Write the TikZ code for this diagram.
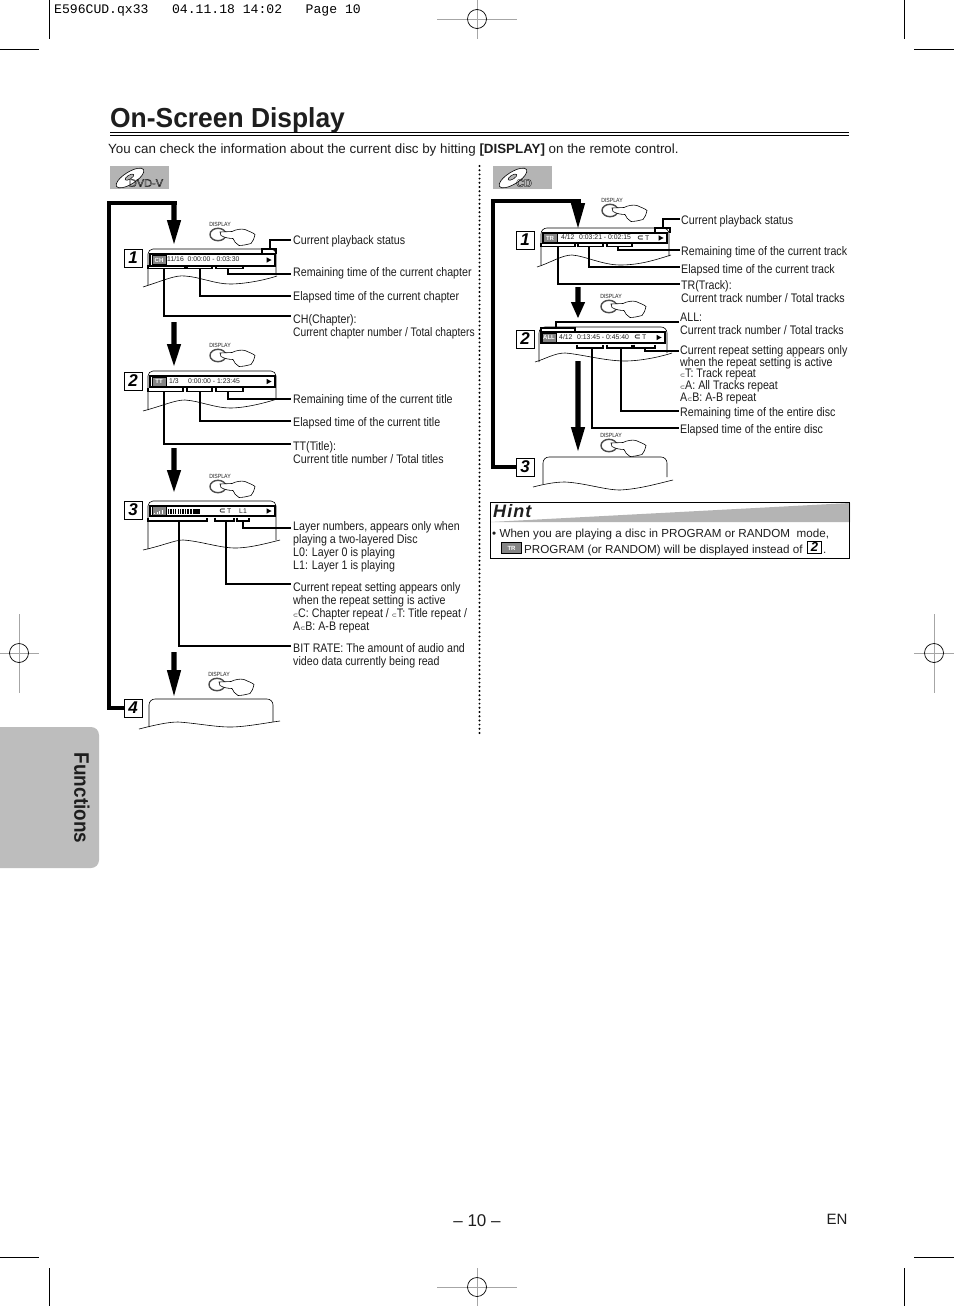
\documentclass[tikz,border=0pt]{standalone}
\usepackage{fontspec}
\setmainfont{Liberation Sans}
\newfontfamily\cond[FakeStretch=0.86]{Liberation Sans}
\newfontfamily\condn[FakeStretch=0.828]{Liberation Sans}
\newfontfamily\titlefont[FakeStretch=0.96]{Liberation Sans}
\newfontfamily\sidefont[FakeStretch=0.9]{Liberation Sans}
\newfontfamily\djv{DejaVu Sans}
\newfontfamily\typew{Liberation Mono}
\newcommand{\rp}{{\djv\fontsize{6}{6}\selectfont ⊂}}
\newcommand{\rpb}{{\djv\bfseries\fontsize{8}{8}\selectfont ⊂}}
\newcommand{\outline}[1]{\special{pdf:code 1 Tr 0.3 w}#1\special{pdf:code 0 Tr}}
\definecolor{sidegray}{HTML}{BDBDBD}
\definecolor{badgegray}{HTML}{B4B4B4}
\definecolor{ink}{HTML}{1E1E1E}
\tikzset{
  lbl/.style={anchor=north west,inner sep=0pt,yshift=-1.5pt,align=left,font=\cond\fontsize{12.4}{13}\selectfont,text=ink},
  lbltight/.style={lbl,font=\cond\fontsize{12.4}{11.6}\selectfont},
  lead/.style={draw=black,line width=1.3pt,line join=miter},
  crop/.style={draw=black,line width=0.7pt},
  reg/.style={draw=gray!70,line width=0.7pt},
  outl/.style={draw=black,line width=0.6pt},
  thickloop/.style={draw=black,line width=4pt,line join=miter},
  numbox/.style={draw=black,line width=0.9pt,fill=white,minimum width=18pt,minimum height=18pt,inner sep=0pt,font=\bfseries\itshape\fontsize{17}{17}\selectfont},
  bartext/.style={anchor=west,inner sep=0pt,font=\fontsize{6.85}{7}\selectfont,text=ink},
  modeicon/.style={draw=black,line width=0.7pt,fill=black!48,text=white,inner sep=0pt,minimum width=14pt,minimum height=9pt,font=\bfseries\fontsize{6}{6}\selectfont},
  displaytxt/.style={inner sep=0pt,font=\cond\fontsize{6}{6}\selectfont,text=ink},
}
% arrow: x, shaft top, head top, tip
\newcommand{\dnarrow}[4]{\fill[black] (#1-2.6,#2) -- (#1+2.6,#2) -- (#1+2.6,#3) -- (#1+7.2,#3) -- (#1,#4) -- (#1-7.2,#3) -- (#1-2.6,#3) -- cycle;}
% hand icon: name, x and y of the word DISPLAY
\newcommand{\handicon}[3]{%
  \node[displaytxt] (#1) at (#2,#3) {DISPLAY};
  \begin{scope}[shift={(#2-2,#3+10.5)}]
    \draw[line width=1.4pt,draw=black!70] (0,0) ellipse (8 and 6.2);
    \draw[line width=0.6pt,fill=white] (2,-2.5) -- (14,-3) .. controls (18,-5) and (23,-6) .. (27,-5) .. controls (31,-3) and (35,-2) .. (37,0) .. controls (36,4) and (35,7) .. (33,9) .. controls (29,10) and (25,11) .. (21,11) .. controls (18,9) and (16,7) .. (15,4) .. controls (11,4) and (6,3) .. (3,1) -- cycle;
  \end{scope}}
% top/bottom brackets
\newcommand{\brb}[5]{\draw[lead] (#2,#5-3.5) -- (#2,#5) -- (#3,#5) -- (#3,#5-3.5); \coordinate (#1) at (#4,#5);}
\newcommand{\brt}[5]{\draw[lead] (#2,#5+5) -- (#2,#5) -- (#3,#5) -- (#3,#5+5); \coordinate (#1) at (#4,#5);}
\newcommand{\play}[2]{\fill[black] (#1-2.5,#2-2.7) -- (#1+2.5,#2) -- (#1-2.5,#2+2.7) -- cycle;}
\begin{document}
\begin{tikzpicture}[x=1pt,y=-1pt]
\useasboundingbox (0,0) rectangle (954,1306);
\fill[white] (0,0) rectangle (954,1306);
% crop marks
\draw[crop] (49,0) -- (49,39);
\draw[crop] (0,49) -- (39,49);
\draw[crop] (904,0) -- (904,39);
\draw[crop] (914,49) -- (954,49);
\draw[crop] (49,1268) -- (49,1306);
\draw[crop] (0,1257) -- (39,1257);
\draw[crop] (904,1268) -- (904,1306);
\draw[crop] (914,1257) -- (954,1257);
% registration marks
\draw[reg] (437,19) -- (517,19);
\draw[reg] (477,0) -- (477,39);
\draw[crop] (477,19) circle[radius=9.5];
\draw[reg] (437,1287) -- (517,1287);
\draw[reg] (477,1268) -- (477,1306);
\draw[crop] (477,1287) circle[radius=9.5];
\draw[reg] (0,653) -- (39,653);
\draw[reg] (19,614) -- (19,693);
\draw[crop] (19,653) circle[radius=9.5];
\draw[reg] (914,653) -- (954,653);
\draw[reg] (934,614) -- (934,693);
\draw[crop] (934,653) circle[radius=9.5];
% header
\node[anchor=west,inner sep=0pt,font=\typew\fontsize{13.1}{14}\selectfont] (slug) at (54,10) {E596CUD.qx33\ \ \ 04.11.18 14:02\ \ \ Page 10};
% title
\node[anchor=base west,inner sep=0pt,font=\titlefont\bfseries\fontsize{27.5}{28}\selectfont,text=ink] (title) at (110,127) {On-Screen Display};
\draw[black,line width=0.8pt] (110,132.5) -- (849,132.5);
\draw[black,line width=1.7pt] (110,135.5) -- (849,135.5);
\node[anchor=base west,inner sep=0pt,font=\fontsize{13.35}{14}\selectfont,text=ink] (intro) at (108,153.5) {You can check the information about the current disc by hitting \textbf{[DISPLAY]} on the remote control.};
% badges
\fill[badgegray] (110,166) rectangle (169,189);
\fill[badgegray] (493,166) rectangle (552,189);
\foreach \bx in {130,513}{
  \draw[line width=0.6pt,fill=white,rotate around={32:(\bx,178)}] (\bx,178) ellipse (16 and 6);
  \draw[line width=0.5pt,fill=badgegray,rotate around={32:(\bx,178)}] (\bx,177) ellipse (5 and 2);
}
\node[inner sep=0pt,font=\fontsize{11}{11}\selectfont,text=black] (dvdtxt) at (146,183) {\outline{DVD-V}};
\node[inner sep=0pt,font=\bfseries\fontsize{11}{11}\selectfont,text=black] (cdtxt) at (524,183) {\outline{CD}};
% dotted divider
\draw[black,line width=2.2pt,line cap=round,dash pattern=on 0pt off 4.2pt] (479.5,166) -- (479.5,734);
% sidebar
\fill[sidegray,rounded corners=8pt] (-12,727) rectangle (99,868);
\node[rotate=-90,inner sep=0pt,font=\sidefont\bfseries\fontsize{21}{22}\selectfont,text=ink] (side) at (82,798) {Functions};
% ---------- left column: loop and arrows
\node[numbox] (n1) at (133,258) {1};
\node[numbox] (n2) at (133,381) {2};
\node[numbox] (n3) at (133,510) {3};
\node[numbox] (n4) at (133,708) {4};
\draw[thickloop] (n4.west) -- (109,708) -- (109,203) -- (176.6,203);
\dnarrow{174}{201}{220}{244}
\dnarrow{174}{322}{344}{366}
\dnarrow{174}{448}{470}{492}
\dnarrow{174}{652}{670}{696}
\handicon{d1}{220}{224}
\handicon{d2}{220}{345}
\handicon{d3}{220}{476}
\handicon{d4}{219}{674}
% screen outlines
\draw[outl,rounded corners=5pt] (148,285) -- (148,249) -- (276,249) -- (276,275);
\draw[outl] (143,287) .. controls (165,280) and (175,275) .. (185,276) .. controls (200,277) and (215,284) .. (230,284) .. controls (245,284) and (265,280) .. (277,276);
\draw[outl,rounded corners=5pt] (148,410) -- (148,371) -- (276,371) -- (276,399);
\draw[outl] (143,411) .. controls (165,405) and (175,400) .. (185,400) .. controls (200,401) and (215,408) .. (230,408) .. controls (245,408) and (265,403) .. (277,399);
\draw[outl,rounded corners=5pt] (148,549) -- (148,501) -- (276,501) -- (276,540);
\draw[outl] (143,550) .. controls (165,545) and (175,540) .. (183,540) .. controls (200,541) and (220,548) .. (235,548) .. controls (250,548) and (268,543) .. (280,540);
\draw[outl,rounded corners=6pt] (149,727) -- (149,699) -- (273,699) -- (273,722);
\draw[outl] (139,729) .. controls (155,725) and (168,722) .. (178,722) .. controls (195,723) and (215,727) .. (230,727) .. controls (245,727) and (265,723) .. (280,721);
% bars
\draw[line width=1.2pt,fill=white] (150,254) rectangle (275,266);
\draw[line width=1.2pt,fill=white] (150,376) rectangle (275,387);
\draw[line width=1.2pt,fill=white] (150,506) rectangle (275,516);
\node[modeicon] (ich) at (159,260) {CH};
\node[modeicon] (itt) at (159,381.5) {TT};
\node[modeicon] (ibr) at (159,511) {};
\foreach \a/\h in {154/1.5,156.5/2.5,159/3.5,161.5/4.5}{\fill[white] (\a,514) rectangle (\a+1.4,514-\h);}
\node[bartext] (tch) at (167,259.5) {11/16\ \ 0:00:00 - 0:03:30};
\node[bartext] (ttn) at (169,381) {1/3};
\node[bartext] (ttt) at (188,381) {0:00:00 - 1:23:45};
\node[bartext] (trt) at (219,511) {\rpb\,T};
\node[bartext] (tl) at (239,511) {L1};
\play{269}{260}
\play{269}{381.5}
\play{269}{511}
\foreach \a/\w in {168/1.2,170.4/1.2,172.8/1.2,175.2/1.2,178/1.2,180/1.4,182.2/1.4,184.6/1.6,187/2.2,190/2,193/7}{\fill[black] (\a,508.5) rectangle (\a+\w,513.5);}
% DVD screen 1 leaders
\brt{s1}{262}{276}{270}{249}
\brb{r1}{216}{243}{228}{268.5}
\brb{e1}{187}{212}{200}{268.5}
\brb{c1}{148}{185}{164}{268.5}
\node[lbl] (l1) at (293,234) {Current playback status};
\node[lbl] (l2) at (293,266) {Remaining time of the current chapter};
\node[lbl] (l3) at (293,290) {Elapsed time of the current chapter};
\node[lbl] (l4) at (293,313) {CH(Chapter):\\{\condn Current chapter number / Total chapters}};
\coordinate (l1e) at (291,240);
\coordinate (l2e) at (291,274);
\coordinate (l3e) at (291,296);
\coordinate (l4e) at (291,316);
\draw[lead] (s1) |- (l1e);
\draw[lead] (r1) |- (l2e);
\draw[lead] (e1) |- (l3e);
\draw[lead] (c1) |- (l4e);
% DVD screen 2 leaders
\brb{r2}{216}{243}{228}{391.5}
\brb{e2}{187}{212}{200}{391.5}
\brb{c2}{148}{183}{164}{391.5}
\node[lbl] (l5) at (293,393) {Remaining time of the current title};
\node[lbl] (l6) at (293,416) {Elapsed time of the current title};
\node[lbl] (l7) at (293,440) {TT(Title):\\Current title number / Total titles};
\coordinate (l5e) at (291,399);
\coordinate (l6e) at (291,421);
\coordinate (l7e) at (291,444);
\draw[lead] (r2) |- (l5e);
\draw[lead] (e2) |- (l6e);
\draw[lead] (c2) |- (l7e);
% DVD screen 3 leaders
\brb{b3}{148}{207}{179}{521}
\brb{t3}{215}{234}{226}{521}
\brb{y3}{237}{249}{243}{521}
\node[lbl] (l8) at (293,520) {Layer numbers, appears only when\\playing a two-layered Disc\\L0: Layer 0 is playing\\L1: Layer 1 is playing};
\node[lbl] (l9) at (293,581) {Current repeat setting appears only\\when the repeat setting is active\\\rp C: Chapter repeat / \rp T: Title repeat /\\A\rp B: A-B repeat};
\node[lbl] (l10) at (293,642) {BIT RATE: The amount of audio and\\video data currently being read};
\coordinate (l8e) at (291,528);
\coordinate (l9e) at (291,584);
\coordinate (l10e) at (291,646);
\draw[lead] (y3) |- (l8e);
\draw[lead] (t3) |- (l9e);
\draw[lead] (b3) |- (l10e);
% ---------- right column
\node[numbox] (m1) at (525,240) {1};
\node[numbox] (m2) at (525,339) {2};
\node[numbox] (m3) at (525,467) {3};
\draw[thickloop] (m3.west) -- (493,467) -- (493,201) -- (580.6,201);
\dnarrow{578}{199}{203}{228}
\dnarrow{578}{287}{302}{318}
\dnarrow{578}{361}{427}{451}
\handicon{c1h}{612}{200}
\handicon{c2h}{611}{296}
\handicon{c3h}{611}{435}
\draw[outl,rounded corners=6pt] (541,265) -- (541,228) -- (669,228) -- (669,256);
\draw[outl] (537,267) .. controls (550,263) and (562,255) .. (572,255) .. controls (585,256) and (603,265) .. (620,265) .. controls (640,265) and (655,260) .. (671,255);
\draw[outl,rounded corners=6pt] (539,362) -- (539,327) -- (667,327) -- (667,353);
\draw[outl] (535,362) .. controls (545,359) and (555,353) .. (565,353) .. controls (580,354) and (605,361) .. (625,361) .. controls (640,361) and (660,357) .. (672,353);
\draw[outl,rounded corners=6pt] (543,484) -- (543,457) -- (667,457) -- (667,477);
\draw[outl] (533,487) .. controls (545,484) and (555,482) .. (565,482) .. controls (585,483) and (605,490) .. (620,490) .. controls (640,489) and (660,483) .. (673,480);
\draw[line width=1.2pt,fill=white] (543,233) rectangle (667,243);
\draw[line width=1.2pt,fill=white] (541,332) rectangle (665,343);
\node[modeicon] (itr) at (550,238) {TR};
\node[modeicon] (ial) at (549,337.5) {ALL};
\node[bartext] (q1) at (561,237.5) {4/12};
\node[bartext] (q2) at (579,237.5) {0:03:21 - 0:02:15};
\node[bartext] (q3) at (637,238) {\rpb\,T};
\node[bartext] (q4) at (559,337) {4/12};
\node[bartext] (q5) at (577,337) {0:13:45 - 0:45:40};
\node[bartext] (q6) at (634,337.5) {\rpb\,T};
\play{661}{238}
\play{659}{337.5}
\brt{s4}{655}{670}{663}{228}
\brb{r4}{607}{632}{618}{246.5}
\brb{e4}{578}{603}{589}{246.5}
\brb{c4}{541}{575}{558}{246.5}
\node[lbl] (p1) at (681,214) {Current playback status};
\node[lbl] (p2) at (681,245) {Remaining time of the current track};
\node[lbl] (p3) at (681,263) {Elapsed time of the current track};
\node[lbl] (p4) at (681,279) {TR(Track):\\Current track number / Total tracks};
\coordinate (p1e) at (680,219);
\coordinate (p2e) at (680,250);
\coordinate (p3e) at (680,267);
\coordinate (p4e) at (680,284);
\draw[lead] (s4) |- (p1e);
\draw[lead] (r4) |- (p2e);
\draw[lead] (e4) |- (p3e);
\draw[lead] (c4) |- (p4e);
\brt{a5}{541}{575}{556}{328}
\brb{e5}{577}{603}{592}{348}
\brb{r5}{607}{632}{621}{348}
\brb{t5}{634}{655}{645}{348}
\node[lbl] (p5) at (680,311) {ALL:\\Current track number / Total tracks};
\node[lbltight] (p6) at (680,344) {Current repeat setting appears only\\when the repeat setting is active\\\rp T: Track repeat\\\rp A: All Tracks repeat\\A\rp B: A-B repeat};
\node[lbl] (p7) at (680,406) {Remaining time of the entire disc};
\node[lbl] (p8) at (680,423) {Elapsed time of the entire disc};
\coordinate (p5e) at (679,322);
\coordinate (p6e) at (679,351);
\coordinate (p7e) at (679,411);
\coordinate (p8e) at (679,428);
\draw[lead] (a5) |- (p5e);
\draw[lead] (t5) |- (p6e);
\draw[lead] (r5) |- (p7e);
\draw[lead] (e5) |- (p8e);
% ---------- hint
\fill[badgegray] (490,522) -- (850,503) -- (850,522) -- cycle;
\draw[black,line width=0.9pt] (490.5,502.5) rectangle (849.5,558.5);
\node[anchor=base west,inner sep=0pt,font=\bfseries\itshape\fontsize{18}{18}\selectfont,text=ink] (hint) at (493,517) {\addfontfeatures{LetterSpace=6}Hint};
\node[anchor=base west,inner sep=0pt,font=\fontsize{11.65}{12}\selectfont,text=ink] (h1) at (492,537) {• When you are playing a disc in PROGRAM or RANDOM\ \ mode,};
\node[modeicon,minimum width=20pt,minimum height=11pt] (h2) at (511.5,548) {TR};
\node[anchor=base west,inner sep=0pt,font=\fontsize{11.65}{12}\selectfont,text=ink] (h3) at (524,553) {PROGRAM (or RANDOM) will be displayed instead of};
\node[numbox,minimum width=14pt,minimum height=12pt,font=\bfseries\itshape\fontsize{13}{13}\selectfont] (h4) at (814.5,547) {2};
\node[anchor=base west,inner sep=0pt,font=\fontsize{11.65}{12}\selectfont,text=ink] (h5) at (823,553) {.};
% folio
\node[inner sep=0pt,font=\fontsize{17}{17}\selectfont,text=ink] (folio) at (477,1221) {– 10 –};
\node[inner sep=0pt,font=\fontsize{15}{16}\selectfont,text=ink] (en) at (837,1219) {EN};
\end{tikzpicture}
\end{document}
